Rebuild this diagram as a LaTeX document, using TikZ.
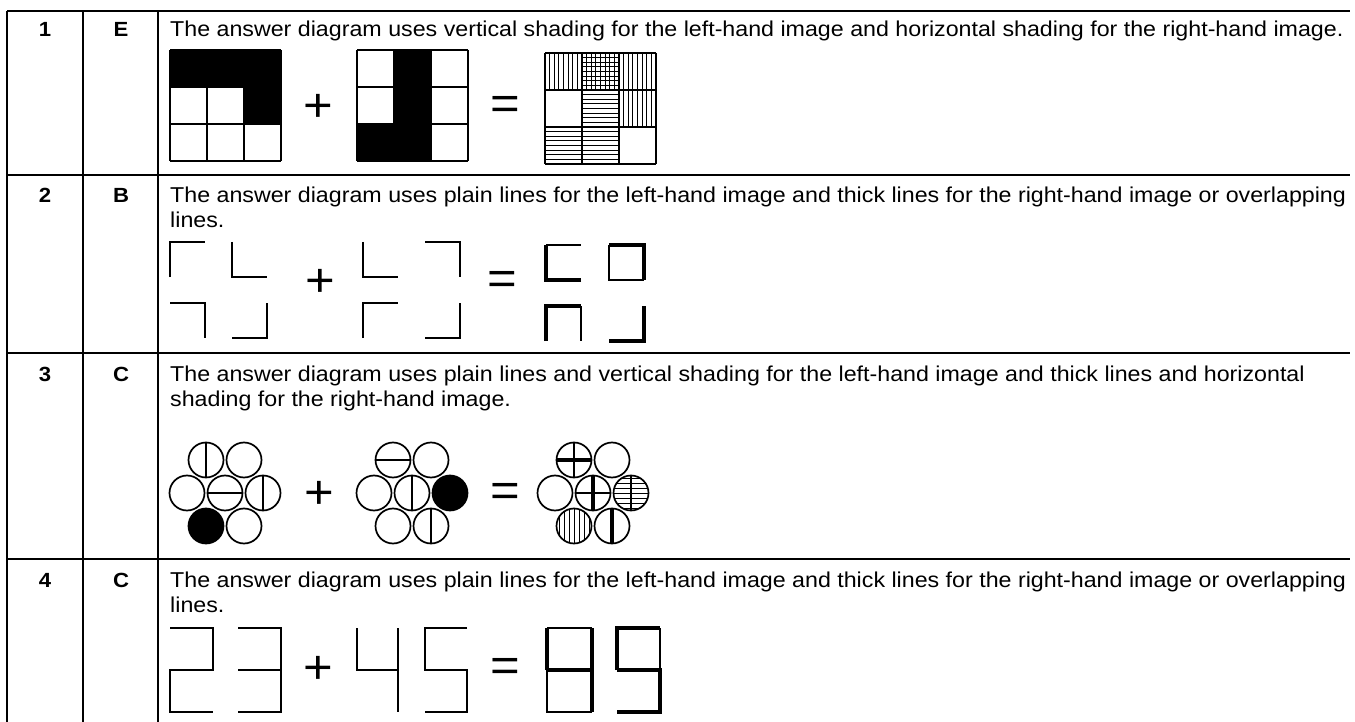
\documentclass[tikz,border=0pt]{standalone}
\usepackage{fontspec}
\setmainfont{Liberation Sans}[FakeStretch=1.08]

\begin{document}
\begin{tikzpicture}[x=1pt, y=-1pt,
    rule/.style={line width=2.5pt},
    cellline/.style={line width=1.5pt},
    plain/.style={line width=1.6pt},
    heavy/.style={line width=3.8pt},
    stripe/.style={line width=0.9pt},
    ring/.style={line width=1.7pt},
    rowtext/.style={anchor=base west, align=left, inner sep=0pt,
        font=\fontsize{21.5}{25}\selectfont},
    rownum/.style={anchor=base, inner sep=0pt,
        font=\fontsize{20.5}{25}\selectfont\bfseries},
    sym/.style={inner sep=0pt, font=\fontsize{47}{47}\selectfont}]

    \useasboundingbox (0,0) rectangle (1355,722);
    \fill[white] (0,0) rectangle (1355,722);

    % Table rules
    \draw[rule] (7,11) -- (1350,11);
    \foreach \y in {175,353,559}
        \draw[rule] (7,\y) -- (1350,\y);
    \foreach \x in {7,83,158}
        \draw[rule] (\x,11) -- (\x,722);

    % Numbers and answers
    \node[rownum] (n1) at (45,37) {1};
    \node[rownum] (a1) at (121,37) {E};
    \node[rownum] (n2) at (45,203) {2};
    \node[rownum] (a2) at (121,203) {B};
    \node[rownum] (n3) at (45,381) {3};
    \node[rownum] (a3) at (121,381) {C};
    \node[rownum] (n4) at (45,587) {4};
    \node[rownum] (a4) at (121,587) {C};

    % Explanations (two-line nodes sit on their last baseline)
    \node[rowtext] (t1) at (170,37) {The answer diagram uses vertical shading for the left-hand image and horizontal shading for the right-hand image.};
    \node[rowtext] (t2) at (170,228) {The answer diagram uses plain lines for the left-hand image and thick lines for the right-hand image or overlapping\\lines.};
    \node[rowtext] (t3) at (170,406) {The answer diagram uses plain lines and vertical shading for the left-hand image and thick lines and horizontal\\shading for the right-hand image.};
    \node[rowtext] (t4) at (170,612) {The answer diagram uses plain lines for the left-hand image and thick lines for the right-hand image or overlapping\\lines.};

    % Row 1: grids
    \fill (170,50) rectangle (281,87);
    \fill (244,87) rectangle (281,124);
    \fill (394,50) rectangle (431,124);
    \fill (357,124) rectangle (431,161);
    \foreach \i in {0,1,2,3} {
        \draw[cellline] (170+37*\i,50) -- ++(0,111);
        \draw[cellline] (170,50+37*\i) -- ++(111,0);
        \draw[cellline] (357+37*\i,50) -- ++(0,111);
        \draw[cellline] (357,50+37*\i) -- ++(111,0);
    }
    \foreach \c/\r in {0/0,1/0,2/0,2/1}
        \foreach \k in {1,...,7}
            \draw[stripe] (545+37*\c+4.6*\k,53+37*\r) -- ++(0,37);
    \foreach \c/\r in {1/0,1/1,0/2,1/2}
        \foreach \k in {1,...,7}
            \draw[stripe] (545+37*\c,53+37*\r+4.6*\k) -- ++(37,0);
    \foreach \i in {0,1,2,3} {
        \draw[line width=2.2pt] (545+37*\i,53) -- ++(0,111);
        \draw[line width=2.2pt] (545,53+37*\i) -- ++(111,0);
    }
    \node[sym] (p1) at (318,108) {+};
    \node[sym] (e1) at (505,108) {=};

    % Row 2: corners
    \draw[plain] (170,277) -- (170,242) -- (205,242);
    \draw[plain] (232,242) -- (232,277) -- (267,277);
    \draw[plain] (170,303) -- (205,303) -- (205,338);
    \draw[plain] (267,303) -- (267,338) -- (232,338);
    \draw[plain] (363,242) -- (363,277) -- (398,277);
    \draw[plain] (425,242) -- (460,242) -- (460,277);
    \draw[plain] (363,338) -- (363,303) -- (398,303);
    \draw[plain] (460,303) -- (460,338) -- (425,338);
    \draw[plain] (546,245) -- (581,245);
    \draw[heavy] (581,280) -- (546,280) -- (546,245);
    \draw[plain] (609,245) -- (609,280) -- (644,280);
    \draw[heavy] (609,245) -- (644,245) -- (644,280);
    \draw[plain] (581,306) -- (581,341);
    \draw[heavy] (546,341) -- (546,306) -- (581,306);
    \draw[heavy] (644,306) -- (644,341) -- (609,341);
    \node[sym] (p2) at (320,283) {+};
    \node[sym] (e2) at (502,283) {=};

    % Row 3: circles
    \foreach \cx in {225,412,593}
        \foreach \dx/\dy in {-19/-33,19/-33,-38/0,0/0,38/0,-19/33,19/33}
            \draw[ring] (\cx+\dx,493+\dy) circle[radius=17.5pt];
    \fill (206,526) circle[radius=17.5pt];
    \draw[plain] (206,442.5) -- (206,477.5);
    \draw[plain] (207.5,493) -- (242.5,493);
    \draw[plain] (263,475.5) -- (263,510.5);
    \fill (450,493) circle[radius=17.5pt];
    \draw[plain] (375.5,460) -- (410.5,460);
    \draw[plain] (412,475.5) -- (412,510.5);
    \draw[plain] (431,508.5) -- (431,543.5);
    \begin{scope}
        \clip (631,493) circle[radius=17.5pt];
        \foreach \k in {-3,...,3}
            \draw[stripe] (611,493+5*\k) -- (651,493+5*\k);
    \end{scope}
    \begin{scope}
        \clip (574,526) circle[radius=17.5pt];
        \foreach \k in {-3,...,3}
            \draw[stripe] (574+5*\k,506) -- (574+5*\k,546);
    \end{scope}
    \draw[plain] (574,442.5) -- (574,477.5);
    \draw[heavy] (556.5,460) -- (591.5,460);
    \draw[plain] (575.5,493) -- (610.5,493);
    \draw[heavy] (593,475.5) -- (593,510.5);
    \draw[plain] (631,475.5) -- (631,510.5);
    \draw[heavy] (612,508.5) -- (612,543.5);
    \node[sym] (p3) at (319,495) {+};
    \node[sym] (e3) at (505,495) {=};

    % Row 4: digits
    \draw[plain] (170,628) -- (213,628) -- (213,670) -- (170,670) -- (170,712) -- (213,712);
    \draw[plain] (238,628) -- (281,628) -- (281,712) -- (238,712);
    \draw[plain] (238,670) -- (281,670);
    \draw[plain] (357,628) -- (357,670) -- (398,670);
    \draw[plain] (398,628) -- (398,712);
    \draw[plain] (467,628) -- (425,628) -- (425,670) -- (467,670) -- (467,712) -- (425,712);
    \draw[plain] (547,628) -- (592,628);
    \draw[plain] (547,670) -- (547,712) -- (592,712);
    \draw[heavy] (547,670) -- (547,628);
    \draw[heavy] (592,628) -- (592,712);
    \draw[heavy] (547,670) -- (592,670);
    \draw[plain] (660,628) -- (660,670);
    \draw[heavy] (617,670) -- (617,628) -- (660,628);
    \draw[heavy] (617,670) -- (660,670) -- (660,712) -- (617,712);
    \node[sym] (p4) at (318,670) {+};
    \node[sym] (e4) at (505,670) {=};

\end{tikzpicture}
\end{document}
